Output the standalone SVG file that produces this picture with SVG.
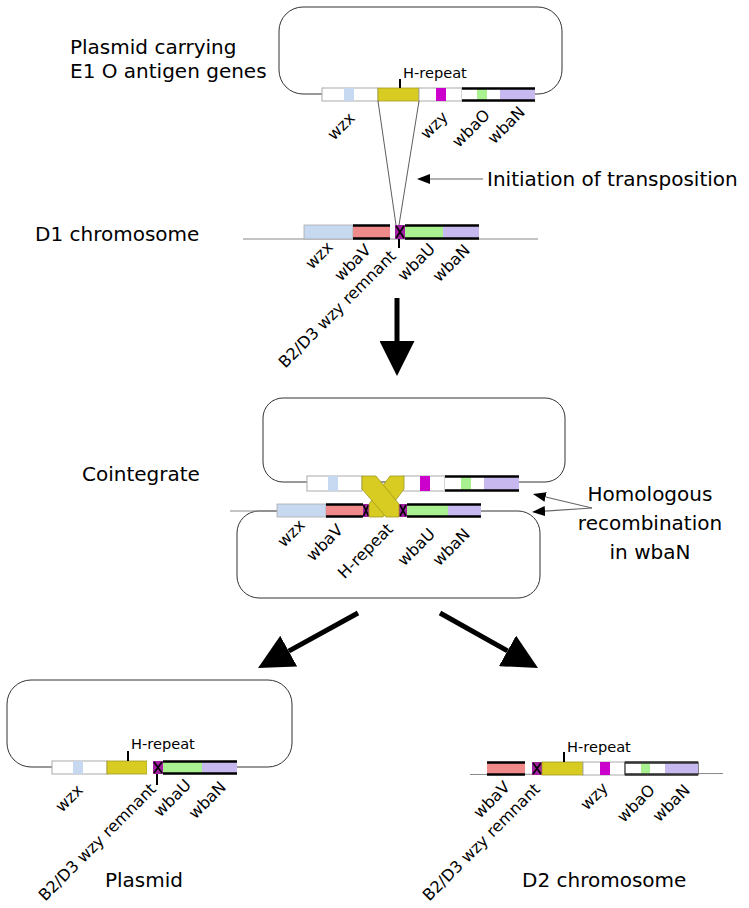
<svg xmlns="http://www.w3.org/2000/svg" width="749" height="908" viewBox="0 0 749 908">
<style>
.loop{fill:none;stroke:#333;stroke-width:1}
.gline{stroke:#888;stroke-width:1;fill:none}
.wbox{fill:#fff;stroke:#aaa;stroke-width:1}
.blue{fill:#c6d9f1}
.yel{fill:#d8cc22;stroke:#a09820;stroke-width:0.8}
.mag{fill:#cc00cc}
.grn{fill:#a8f090}
.lav{fill:#c8b8f0}
.sal{fill:#f08a8a}
.xbox{fill:#a020a0}
.xmark{stroke:#000;stroke-width:1.6}
.thick{stroke:#000;stroke-width:2.6}
.tick{stroke:#000;stroke-width:2}
.lbl{font-family:"DejaVu Sans",sans-serif;font-size:16px;fill:#000}
.hr{font-family:"DejaVu Sans",sans-serif;font-size:14.6px;fill:#000}
.big{font-family:"DejaVu Sans",sans-serif;font-size:20px;fill:#000}
.thin{stroke:#333;stroke-width:0.8;fill:none}
.ann{stroke:#666;stroke-width:1.2;fill:none}
.bigarrow{stroke:#000;stroke-width:5;fill:none}
</style>
<defs>
<marker id="bighead" viewBox="0 0 10 10" refX="0" refY="5" markerWidth="7" markerHeight="7" orient="auto" markerUnits="strokeWidth"><path d="M0,0 L10,5 L0,10 z" fill="#000"/></marker>
<marker id="smallhead" viewBox="0 0 13 10" refX="0" refY="5" markerWidth="13" markerHeight="10" orient="auto" markerUnits="userSpaceOnUse"><path d="M0,0 L13,5 L0,10 z" fill="#000"/></marker>
</defs>

<!-- Top plasmid -->
<g id="plasmid-top">
<rect class="loop" x="279" y="7" width="283" height="87" rx="24"/>
<rect class="wbox" x="322" y="88" width="56" height="13"/>
<rect class="blue" x="344" y="88" width="10" height="13"/>
<rect class="yel" x="378" y="88" width="41" height="13"/>
<rect class="wbox" x="419" y="88" width="43" height="13"/>
<rect class="mag" x="436" y="88" width="10" height="13"/>
<rect fill="#fff" x="462" y="88" width="73" height="13"/>
<rect class="grn" x="477" y="88" width="10" height="13"/>
<rect class="lav" x="500" y="88" width="35" height="13"/>
<line class="thick" x1="462" y1="88.5" x2="535" y2="88.5"/>
<line class="thick" x1="462" y1="100.5" x2="535" y2="100.5"/>
<line class="tick" x1="400" y1="79" x2="400" y2="88"/>
<text class="hr" x="403" y="78">H-repeat</text>
<text class="lbl" text-anchor="end" transform="translate(356,119) rotate(-45)">wzx</text>
<text class="lbl" text-anchor="end" transform="translate(449,118) rotate(-45)">wzy</text>
<text class="lbl" text-anchor="end" transform="translate(491,116) rotate(-45)">wbaO</text>
<text class="lbl" text-anchor="end" transform="translate(526,113) rotate(-45)">wbaN</text>
<text class="big" x="70" y="54">Plasmid carrying</text>
<text class="big" x="70" y="78">E1 O antigen genes</text>
</g>

<!-- D1 chromosome -->
<g id="d1-chromosome">
<line class="gline" x1="243" y1="239" x2="538" y2="239"/>
<rect class="blue" x="304" y="225" width="49" height="14" stroke="#aaa" stroke-width="0.8"/>
<rect class="sal" x="353" y="225" width="37" height="14"/>
<line class="thick" x1="353" y1="225.5" x2="390" y2="225.5"/>
<line class="thick" x1="353" y1="238.5" x2="390" y2="238.5"/>
<rect class="xbox" x="395" y="225" width="10" height="14"/>
<path class="xmark" d="M396,226 L404,238 M404,226 L396,238"/>
<rect class="grn" x="405" y="225" width="38" height="14"/>
<rect class="lav" x="443" y="225" width="36" height="14"/>
<line class="thick" x1="405" y1="225.5" x2="479" y2="225.5"/>
<line class="thick" x1="405" y1="238.5" x2="479" y2="238.5"/>
<line class="tick" x1="399" y1="239" x2="399" y2="248"/>
<text class="lbl" text-anchor="end" transform="translate(334,248) rotate(-45)">wzx</text>
<text class="lbl" text-anchor="end" transform="translate(372,251) rotate(-45)">wbaV</text>
<text class="lbl" text-anchor="end" transform="translate(397,257) rotate(-45)">B2/D3  wzy remnant</text>
<text class="lbl" text-anchor="end" transform="translate(436,250) rotate(-45)">wbaU</text>
<text class="lbl" text-anchor="end" transform="translate(471,251) rotate(-45)">wbaN</text>
<text class="big" x="35" y="241">D1 chromosome</text>
</g>

<!-- Cointegrate -->
<g id="cointegrate">
<rect class="loop" x="263" y="398" width="302" height="84" rx="20"/>
<rect class="loop" x="237" y="511" width="303" height="87" rx="22"/>
<line class="gline" x1="230" y1="511" x2="277" y2="511"/>
<rect class="wbox" x="307" y="476" width="55" height="15"/>
<rect class="blue" x="328" y="476" width="10" height="15"/>
<rect class="wbox" x="403" y="476" width="42" height="15"/>
<rect class="mag" x="420" y="476" width="10" height="15"/>
<rect fill="#fff" x="445" y="476" width="74" height="15"/>
<rect class="grn" x="461" y="476" width="10" height="15"/>
<rect class="lav" x="484" y="476" width="35" height="15"/>
<line class="thick" x1="445" y1="476.5" x2="519" y2="476.5"/>
<line class="thick" x1="445" y1="490.5" x2="519" y2="490.5"/>
<rect class="blue" x="277" y="504" width="49" height="13" stroke="#aaa" stroke-width="0.8"/>
<rect class="sal" x="326" y="504" width="37" height="13"/>
<line class="thick" x1="326" y1="504.5" x2="363" y2="504.5"/>
<line class="thick" x1="326" y1="516.5" x2="363" y2="516.5"/>
<rect class="xbox" x="363" y="504" width="6" height="13"/>
<path class="xmark" d="M363.5,505 L368.5,516 M368.5,505 L363.5,516"/>
<rect class="xbox" x="399" y="504" width="8" height="13"/>
<path class="xmark" d="M400,505 L406,516 M406,505 L400,516"/>
<rect class="grn" x="407" y="504" width="41" height="13"/>
<rect class="lav" x="448" y="504" width="33" height="13"/>
<line class="thick" x1="407" y1="504.5" x2="481" y2="504.5"/>
<line class="thick" x1="407" y1="516.5" x2="481" y2="516.5"/>
<polygon class="yel" points="404,476 404,489 383,517 369,517 369,504 390,476"/>
<polygon class="yel" points="362,476 376,476 399,504 399,517 386,517 362,489"/>
<text class="lbl" text-anchor="end" transform="translate(306,526) rotate(-45)">wzx</text>
<text class="lbl" text-anchor="end" transform="translate(344,531) rotate(-45)">wbaV</text>
<text class="lbl" text-anchor="end" transform="translate(394,530) rotate(-45)">H-repeat</text>
<text class="lbl" text-anchor="end" transform="translate(436,535) rotate(-45)">wbaU</text>
<text class="lbl" text-anchor="end" transform="translate(471,535) rotate(-45)">wbaN</text>
<text class="big" x="82" y="481">Cointegrate</text>
<text class="big" text-anchor="middle" x="650" y="501">Homologous</text>
<text class="big" text-anchor="middle" x="650" y="530">recombination</text>
<text class="big" text-anchor="middle" x="650" y="559">in wbaN</text>
</g>

<!-- Bottom-left plasmid -->
<g id="plasmid-bottom">
<rect class="loop" x="7" y="680" width="285" height="87" rx="24"/>
<rect class="wbox" x="52" y="761" width="55" height="13"/>
<rect class="blue" x="73" y="761" width="10" height="13"/>
<rect class="yel" x="107" y="761" width="40" height="13"/>
<rect fill="#fff" x="147" y="761" width="6" height="13"/>
<rect class="xbox" x="153" y="761" width="10" height="13"/>
<path class="xmark" d="M154,762 L162,773 M162,762 L154,773"/>
<rect class="grn" x="163" y="761" width="39" height="13"/>
<rect class="lav" x="202" y="761" width="35" height="13"/>
<line class="thick" x1="163" y1="761.5" x2="237" y2="761.5"/>
<line class="thick" x1="163" y1="773.5" x2="237" y2="773.5"/>
<line class="tick" x1="128" y1="751" x2="128" y2="761"/>
<text class="hr" x="131" y="749">H-repeat</text>
<line class="tick" x1="157" y1="774" x2="157" y2="785"/>
<text class="lbl" text-anchor="end" transform="translate(84,791) rotate(-45)">wzx</text>
<text class="lbl" text-anchor="end" transform="translate(157,790) rotate(-45)">B2/D3  wzy remnant</text>
<text class="lbl" text-anchor="end" transform="translate(192,786) rotate(-45)">wbaU</text>
<text class="lbl" text-anchor="end" transform="translate(227,788) rotate(-45)">wbaN</text>
<text class="big" x="105" y="887">Plasmid</text>
</g>

<!-- D2 chromosome -->
<g id="d2-chromosome">
<line class="gline" x1="470" y1="774.5" x2="723" y2="773.5"/>
<rect class="sal" x="487" y="762" width="38" height="13"/>
<line class="thick" x1="487" y1="762.5" x2="525" y2="762.5"/>
<line class="thick" x1="487" y1="774.5" x2="525" y2="774.5"/>
<rect class="xbox" x="532" y="762" width="10" height="13"/>
<path class="xmark" d="M533,763 L541,774 M541,763 L533,774"/>
<rect class="yel" x="542" y="762" width="41" height="13"/>
<rect class="wbox" x="583" y="762" width="42" height="13"/>
<rect class="mag" x="600" y="762" width="10" height="13"/>
<rect fill="#fff" stroke="#555" stroke-width="1.5" x="625" y="762.5" width="73" height="12"/>
<rect class="grn" x="641" y="762" width="9" height="13"/>
<rect class="lav" x="665" y="762" width="33" height="13"/>
<line stroke="#333" stroke-width="2.6" x1="625" y1="762.5" x2="698" y2="762.5"/>
<line stroke="#333" stroke-width="2.6" x1="625" y1="774.5" x2="698" y2="774.5"/>
<line class="tick" x1="564" y1="752" x2="564" y2="762"/>
<text class="hr" x="567" y="752">H-repeat</text>
<text class="lbl" text-anchor="end" transform="translate(511,788) rotate(-45)">wbaV</text>
<text class="lbl" text-anchor="end" transform="translate(541,790) rotate(-45)">B2/D3  wzy remnant</text>
<text class="lbl" text-anchor="end" transform="translate(609,789) rotate(-45)">wzy</text>
<text class="lbl" text-anchor="end" transform="translate(656,791) rotate(-45)">wbaO</text>
<text class="lbl" text-anchor="end" transform="translate(691,791) rotate(-45)">wbaN</text>
<text class="big" x="522" y="887">D2 chromosome</text>
</g>

<!-- Connectors -->
<g id="connectors">
<line class="thin" x1="378" y1="101" x2="396" y2="225"/>
<line class="thin" x1="419" y1="101" x2="399" y2="225"/>
<line class="ann" x1="483" y1="179" x2="430" y2="179" marker-end="url(#smallhead)"/>
<text class="big" x="487" y="186">Initiation of transposition</text>
<line class="ann" x1="592" y1="508" x2="545.6" y2="497" marker-end="url(#smallhead)"/>
<line class="ann" x1="592" y1="508" x2="545" y2="511.1" marker-end="url(#smallhead)"/>
<line class="bigarrow" x1="397" y1="298" x2="397" y2="341" marker-end="url(#bighead)"/>
<line class="bigarrow" x1="358" y1="613" x2="288.7" y2="651.1" marker-end="url(#bighead)"/>
<line class="bigarrow" x1="440" y1="613" x2="507.5" y2="650.9" marker-end="url(#bighead)"/>
</g>
</svg>
